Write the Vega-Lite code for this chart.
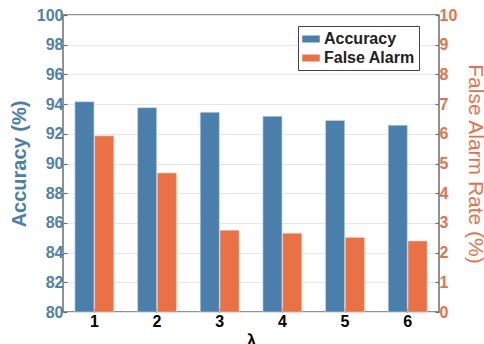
{
  "$schema": "https://vega.github.io/schema/vega-lite/v6.json",
  "width": 376,
  "height": 297,
  "autosize": {"type": "none"},
  "padding": {"left": 63, "top": 15, "right": 45, "bottom": 32},
  "background": "white",
  "config": {
    "font": "Liberation Sans",
    "view": {"stroke": "#6e6e6e", "strokeWidth": 1.5},
    "axis": {"domain": false, "labelFont": "Liberation Sans", "titleFont": "Liberation Sans"}
  },
  "data": {
    "values": [
      {"lambda": "1", "series": "Accuracy", "value": 94.16},
      {"lambda": "2", "series": "Accuracy", "value": 93.76},
      {"lambda": "3", "series": "Accuracy", "value": 93.45},
      {"lambda": "4", "series": "Accuracy", "value": 93.18},
      {"lambda": "5", "series": "Accuracy", "value": 92.9},
      {"lambda": "6", "series": "Accuracy", "value": 92.58},
      {"lambda": "1", "series": "False Alarm", "value": 5.93},
      {"lambda": "2", "series": "False Alarm", "value": 4.68},
      {"lambda": "3", "series": "False Alarm", "value": 2.75},
      {"lambda": "4", "series": "False Alarm", "value": 2.65},
      {"lambda": "5", "series": "False Alarm", "value": 2.51},
      {"lambda": "6", "series": "False Alarm", "value": 2.39}
    ]
  },
  "encoding": {
    "x": {
      "field": "lambda", "type": "nominal",
      "scale": {"paddingInner": 0.38, "paddingOuter": 0.19},
      "axis": {
        "title": "λ", "titleFontSize": 17, "titleFontWeight": "bold", "titleColor": "black", "titlePadding": 3,
        "labelAngle": 0, "labelFontSize": 16, "labelFontWeight": "bold", "labelColor": "black",
        "tickSize": -4, "tickColor": "#6e6e6e", "tickWidth": 1.2, "labelPadding": 5
      }
    },
    "xOffset": {"field": "series", "type": "nominal", "scale": {"domain": ["Accuracy", "False Alarm"], "paddingInner": 0.035}},
    "color": {
      "field": "series", "type": "nominal",
      "scale": {"domain": ["Accuracy", "False Alarm"], "range": ["#4a7fac", "#ea7145"]},
      "legend": {
        "title": null, "orient": "none", "legendX": 235, "legendY": 11,
        "direction": "vertical",
        "symbolType": "M-1,-0.4H1V0.4H-1Z", "symbolSize": 306, "symbolStrokeWidth": 0,
        "labelFontSize": 16, "labelFontWeight": "bold", "labelColor": "#222", "labelOffset": 4,
        "strokeColor": "#444", "fillColor": "white", "padding": 4, "rowPadding": 2
      }
    }
  },
  "layer": [
    {
      "transform": [{"filter": "datum.series === 'Accuracy'"}],
      "mark": {"type": "bar", "stroke": "#c9d9ea", "strokeWidth": 0.6},
      "encoding": {
        "y": {
          "field": "value", "type": "quantitative",
          "scale": {"domain": [80, 100], "zero": false, "nice": false},
          "axis": {
            "title": "Accuracy (%)", "titleFontSize": 20, "titleFontWeight": "bold", "titleColor": "#4a7fac", "titlePadding": 7,
            "values": [80, 82, 84, 86, 88, 90, 92, 94, 96, 98, 100],
            "labelFontSize": 16, "labelFontWeight": "bold", "labelColor": "#4f81ad",
            "tickSize": -4, "tickColor": "#6e6e6e", "tickWidth": 1.2, "labelPadding": 4,
            "grid": true, "gridColor": "#e6e6e6", "gridWidth": 1
          }
        },
        "y2": {"datum": 80}
      }
    },
    {
      "transform": [{"filter": "datum.series === 'False Alarm'"}],
      "mark": {"type": "bar", "stroke": "#f6c7b3", "strokeWidth": 0.6},
      "encoding": {
        "y": {
          "field": "value", "type": "quantitative",
          "scale": {"domain": [0, 10], "nice": false},
          "axis": {
            "orient": "right",
            "title": "False Alarm Rate (%)", "titleFontSize": 21, "titleFontWeight": "normal", "titleColor": "#ea7145", "titlePadding": 8,
            "values": [0, 1, 2, 3, 4, 5, 6, 7, 8, 9, 10],
            "labelFontSize": 16, "labelFontWeight": "bold", "labelColor": "#ea7145",
            "tickSize": -4, "tickColor": "#6e6e6e", "tickWidth": 1.2, "labelPadding": 4,
            "grid": false
          }
        }
      }
    }
  ],
  "resolve": {"scale": {"y": "independent"}}
}
